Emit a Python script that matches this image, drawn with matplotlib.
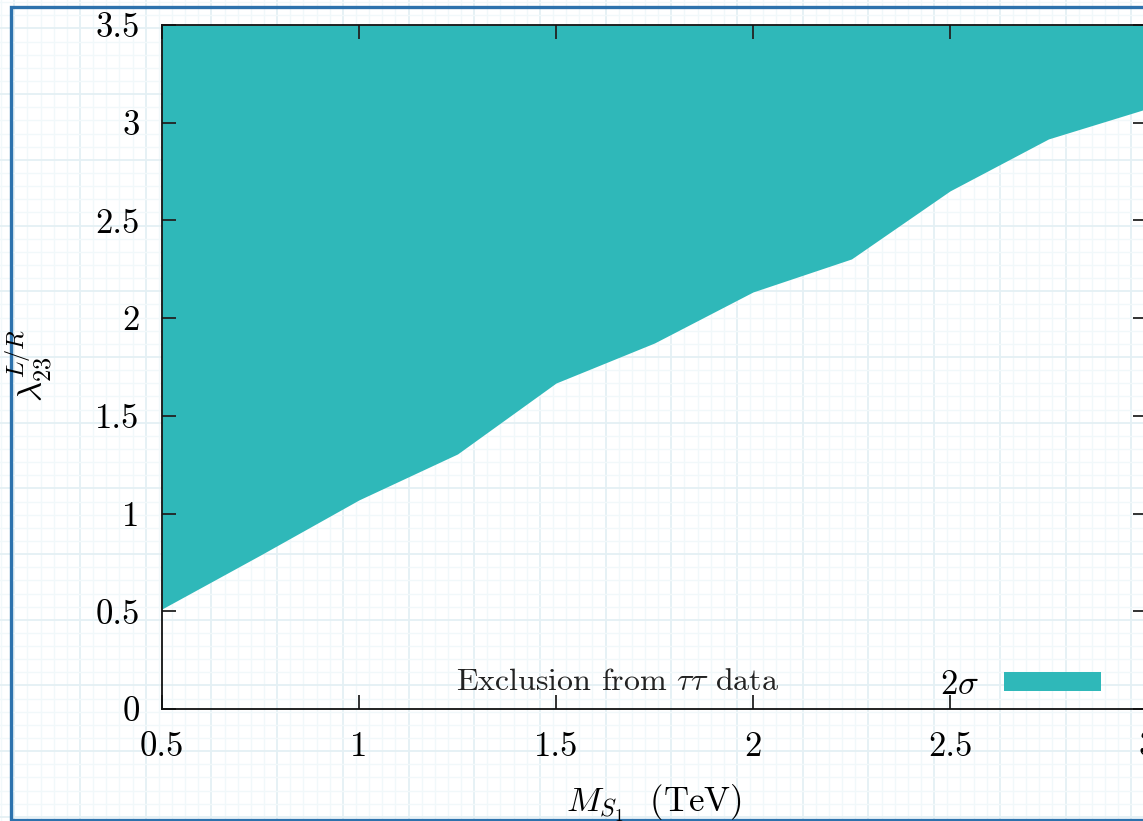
import matplotlib
matplotlib.use("Agg")
import matplotlib.pyplot as plt
import numpy as np

# Boundary of the 2-sigma excluded region (TeV, coupling)
mass_tev = [0.5, 0.75, 1.0, 1.25, 1.5, 1.75, 2.0, 2.25, 2.5, 2.75, 3.0]
coupling_limit = [0.512, 0.788, 1.07, 1.305, 1.668, 1.873, 2.134, 2.303, 2.651, 2.917, 3.072]
coupling_top = 3.5

x_ticks = [0.5, 1.0, 1.5, 2.0, 2.5, 3.0]
x_tick_labels = ["0.5", "1", "1.5", "2", "2.5", "3"]
y_ticks = [0, 0.5, 1.0, 1.5, 2.0, 2.5, 3.0, 3.5]
y_tick_labels = ["0", "0.5", "1", "1.5", "2", "2.5", "3", "3.5"]

region_label = r"$2\sigma$"
legend_title = r"Exclusion from $\tau\tau$ data"
x_label = r"$M_{S_1}$  (TeV)"
y_label = r"$\lambda_{23}^{L/R}$"

TEAL = "#2fb8b9"
PAPER_MINOR = "#f1f8fa"
PAPER_MAJOR = "#e4f0f4"
FRAME_BLUE = "#2d72ad"

plt.rcParams["font.family"] = ["cmr10", "DejaVu Sans"]
plt.rcParams["mathtext.fontset"] = "cm"
plt.rcParams["axes.unicode_minus"] = False
plt.rcParams["axes.formatter.use_mathtext"] = True

W, H = 1143, 821
fig = plt.figure(figsize=(W / 100, H / 100), dpi=100)
fig.patch.set_facecolor("white")

# graph-paper backdrop and outer frame, in pixel units
bg = fig.add_axes([0, 0, 1, 1], zorder=-5)
bg.set_xlim(0, W)
bg.set_ylim(H, 0)
bg.axis("off")
step = 65.7 / 5
xs = np.arange(14.3 - 5 * step, W + step, step)
ys = np.arange(28.5 - 5 * step, H + step, step)
for i, x in enumerate(xs):
    major = (i % 5 == 0)
    bg.axvline(x, color=PAPER_MAJOR if major else PAPER_MINOR,
               lw=1.3 if major else 1.0, zorder=0)
for i, y in enumerate(ys):
    major = (i % 5 == 0)
    bg.axhline(y, color=PAPER_MAJOR if major else PAPER_MINOR,
               lw=1.3 if major else 1.0, zorder=0)
bg.plot([W + 10, 11, 11, W + 10], [7, 7, 820, 820], color=FRAME_BLUE,
        lw=2.4, solid_joinstyle="miter", zorder=2, clip_on=False)

left, right, top, bottom = 162, 1147, 25, 709
ax = fig.add_axes([left / W, 1 - bottom / H, (right - left) / W, (bottom - top) / H])
ax.patch.set_alpha(0)

ax.fill_between(mass_tev, coupling_limit, coupling_top, color=TEAL,
                linewidth=0, label=region_label, zorder=1)

ax.set_xlim(0.5, 3.0)
ax.set_ylim(0, 3.5)
ax.set_xticks(x_ticks)
ax.set_xticklabels(x_tick_labels)
ax.set_yticks(y_ticks)
ax.set_yticklabels(y_tick_labels)
ax.tick_params(direction="in", length=10, width=1.3, color="#222222",
               top=True, right=True, labelsize=25, pad=16)
for s in ax.spines.values():
    s.set_linewidth(1.3)
    s.set_color("#111111")
    s.set_zorder(3)

ax.set_xlabel(x_label, fontsize=25)
ax.xaxis.set_label_coords(0.5, -0.108)
ax.set_ylabel(y_label, fontsize=25)
ax.yaxis.set_label_coords(-0.108, 0.503)

ax.text(1.655, 0.097, legend_title, ha="center", va="baseline", fontsize=23,
        color="#222222")

leg = ax.legend(loc="lower left", bbox_to_anchor=(0.79, 0.012), frameon=False,
                markerfirst=False, fontsize=25, handlelength=2.8,
                handleheight=0.5, handletextpad=0.7, borderpad=0,
                borderaxespad=0)

fig.savefig("out.png", dpi=100)
